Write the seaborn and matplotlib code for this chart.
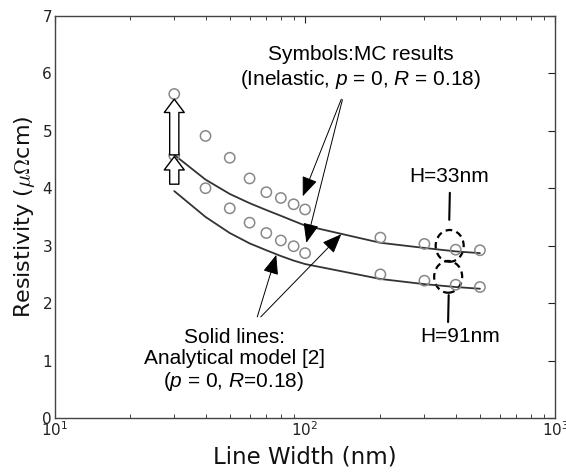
import numpy as np
import pandas as pd
import seaborn as sns
import matplotlib
matplotlib.use("Agg")
import matplotlib.pyplot as plt
from matplotlib.patches import Ellipse

# ---- data ----
width_nm = [30, 40, 50, 60, 70, 80, 90, 100, 200, 300, 400, 500]
mc_h33 = [5.64, 4.91, 4.53, 4.17, 3.93, 3.83, 3.72, 3.63, 3.14, 3.03, 2.93, 2.92]
mc_h91 = [4.57, 4.00, 3.65, 3.40, 3.22, 3.09, 2.99, 2.87, 2.50, 2.39, 2.32, 2.28]
model_h33 = [4.58, 4.15, 3.90, 3.74, 3.62, 3.52, 3.43, 3.35, 3.05, 2.96, 2.90, 2.87]
model_h91 = [3.95, 3.50, 3.22, 3.04, 2.92, 2.82, 2.74, 2.68, 2.42, 2.33, 2.28, 2.25]
x_ticks = [10, 100, 1000]
y_ticks = [0, 1, 2, 3, 4, 5, 6, 7]

df_mc = pd.DataFrame({
    "w": width_nm * 2,
    "rho": mc_h33 + mc_h91,
    "H": ["33"] * len(width_nm) + ["91"] * len(width_nm),
})
df_model = pd.DataFrame({
    "w": width_nm * 2,
    "rho": model_h33 + model_h91,
    "H": ["33"] * len(width_nm) + ["91"] * len(width_nm),
})

sns.set_theme(style="white")
plt.rcParams["font.family"] = ["DejaVu Sans"]
plt.rcParams["mathtext.fontset"] = "custom"
plt.rcParams["mathtext.it"] = "Liberation Sans:italic"
plt.rcParams["mathtext.rm"] = "Liberation Sans"

fig = plt.figure(figsize=(5.66, 4.72), dpi=100)
ax = fig.add_axes([0.097, 0.1144, 0.884, 0.852])

sns.lineplot(data=df_model, x="w", y="rho", units="H", estimator=None,
             color="#333333", lw=1.3, ax=ax, legend=False, sort=True)
sns.scatterplot(data=df_mc, x="w", y="rho", marker="o", s=55,
                facecolor="none", edgecolor="#888888", linewidth=1.1,
                ax=ax, legend=False, zorder=4)

ax.set_xscale("log")
ax.set_xlim(10, 1000)
ax.set_ylim(0, 7)
ax.set_xticks(x_ticks)
ax.set_yticks(y_ticks)
ax.tick_params(which="both", direction="in", top=True, right=True,
               labelsize=11, colors="#222222", pad=2)
ax.tick_params(which="major", length=5, width=0.8)
ax.tick_params(which="minor", length=3, width=0.6, bottom=True, top=True)
for sp in ax.spines.values():
    sp.set_color("#444444")
    sp.set_linewidth(1.0)

ax.set_xlabel("Line Width (nm)", fontsize=16.5, labelpad=4, color="#111111")
ax.set_ylabel(r"Resistivity ($\mu\Omega$cm)", fontsize=16, labelpad=4,
              color="#111111", math_fontfamily="cm")

tfont = dict(family="Liberation Sans", fontsize=15, color="black")

ax.text(167, 6.09, "Symbols:MC results\n(Inelastic, $p$ = 0, $R$ = 0.18)",
        ha="center", va="center", linespacing=1.2, **tfont)
ax.text(52, 1.0, "Solid lines:\nAnalytical model [2]\n($p$ = 0, $R$=0.18)",
        ha="center", va="center", linespacing=1.1, **tfont)
ax.text(375, 4.20, "H=33nm", ha="center", va="center", **tfont)
ax.text(418, 1.41, "H=91nm", ha="center", va="center", **tfont)

arrow_kw = dict(arrowstyle="-|>,head_length=0.55,head_width=0.22",
                color="black", lw=0.7, mutation_scale=22, shrinkA=0, shrinkB=0)
ax.annotate("", xy=(97.9, 3.86), xytext=(139.6, 5.55), arrowprops=arrow_kw)
ax.annotate("", xy=(101.2, 3.05), xytext=(141, 5.54), arrowprops=arrow_kw)
ax.annotate("", xy=(76.7, 2.84), xytext=(64.4, 1.76), arrowprops=arrow_kw)
ax.annotate("", xy=(139.6, 3.20), xytext=(66.5, 1.76), arrowprops=arrow_kw)

block_kw = dict(arrowstyle="simple,head_length=0.8,head_width=1.2,tail_width=0.55",
                fc="white", ec="black", lw=1.0, mutation_scale=12, shrinkA=0, shrinkB=0)
ax.annotate("", xy=(30, 5.55), xytext=(30, 4.58), arrowprops=block_kw, zorder=5)
ax.annotate("", xy=(30, 4.55), xytext=(30, 4.07), arrowprops=block_kw, zorder=5)

ax.add_patch(Ellipse((0.789, 0.428), 0.056, 0.079, transform=ax.transAxes,
                     fill=False, ec="black", lw=1.6, ls=(0, (3, 2))))
ax.add_patch(Ellipse((0.786, 0.351), 0.056, 0.079, transform=ax.transAxes,
                     fill=False, ec="black", lw=1.6, ls=(0, (3, 2))))
ax.plot([379, 377], [3.92, 3.45], color="black", lw=1.5)
ax.plot([373, 375], [1.67, 2.14], color="black", lw=1.5)

fig.savefig("out.png", dpi=100)
